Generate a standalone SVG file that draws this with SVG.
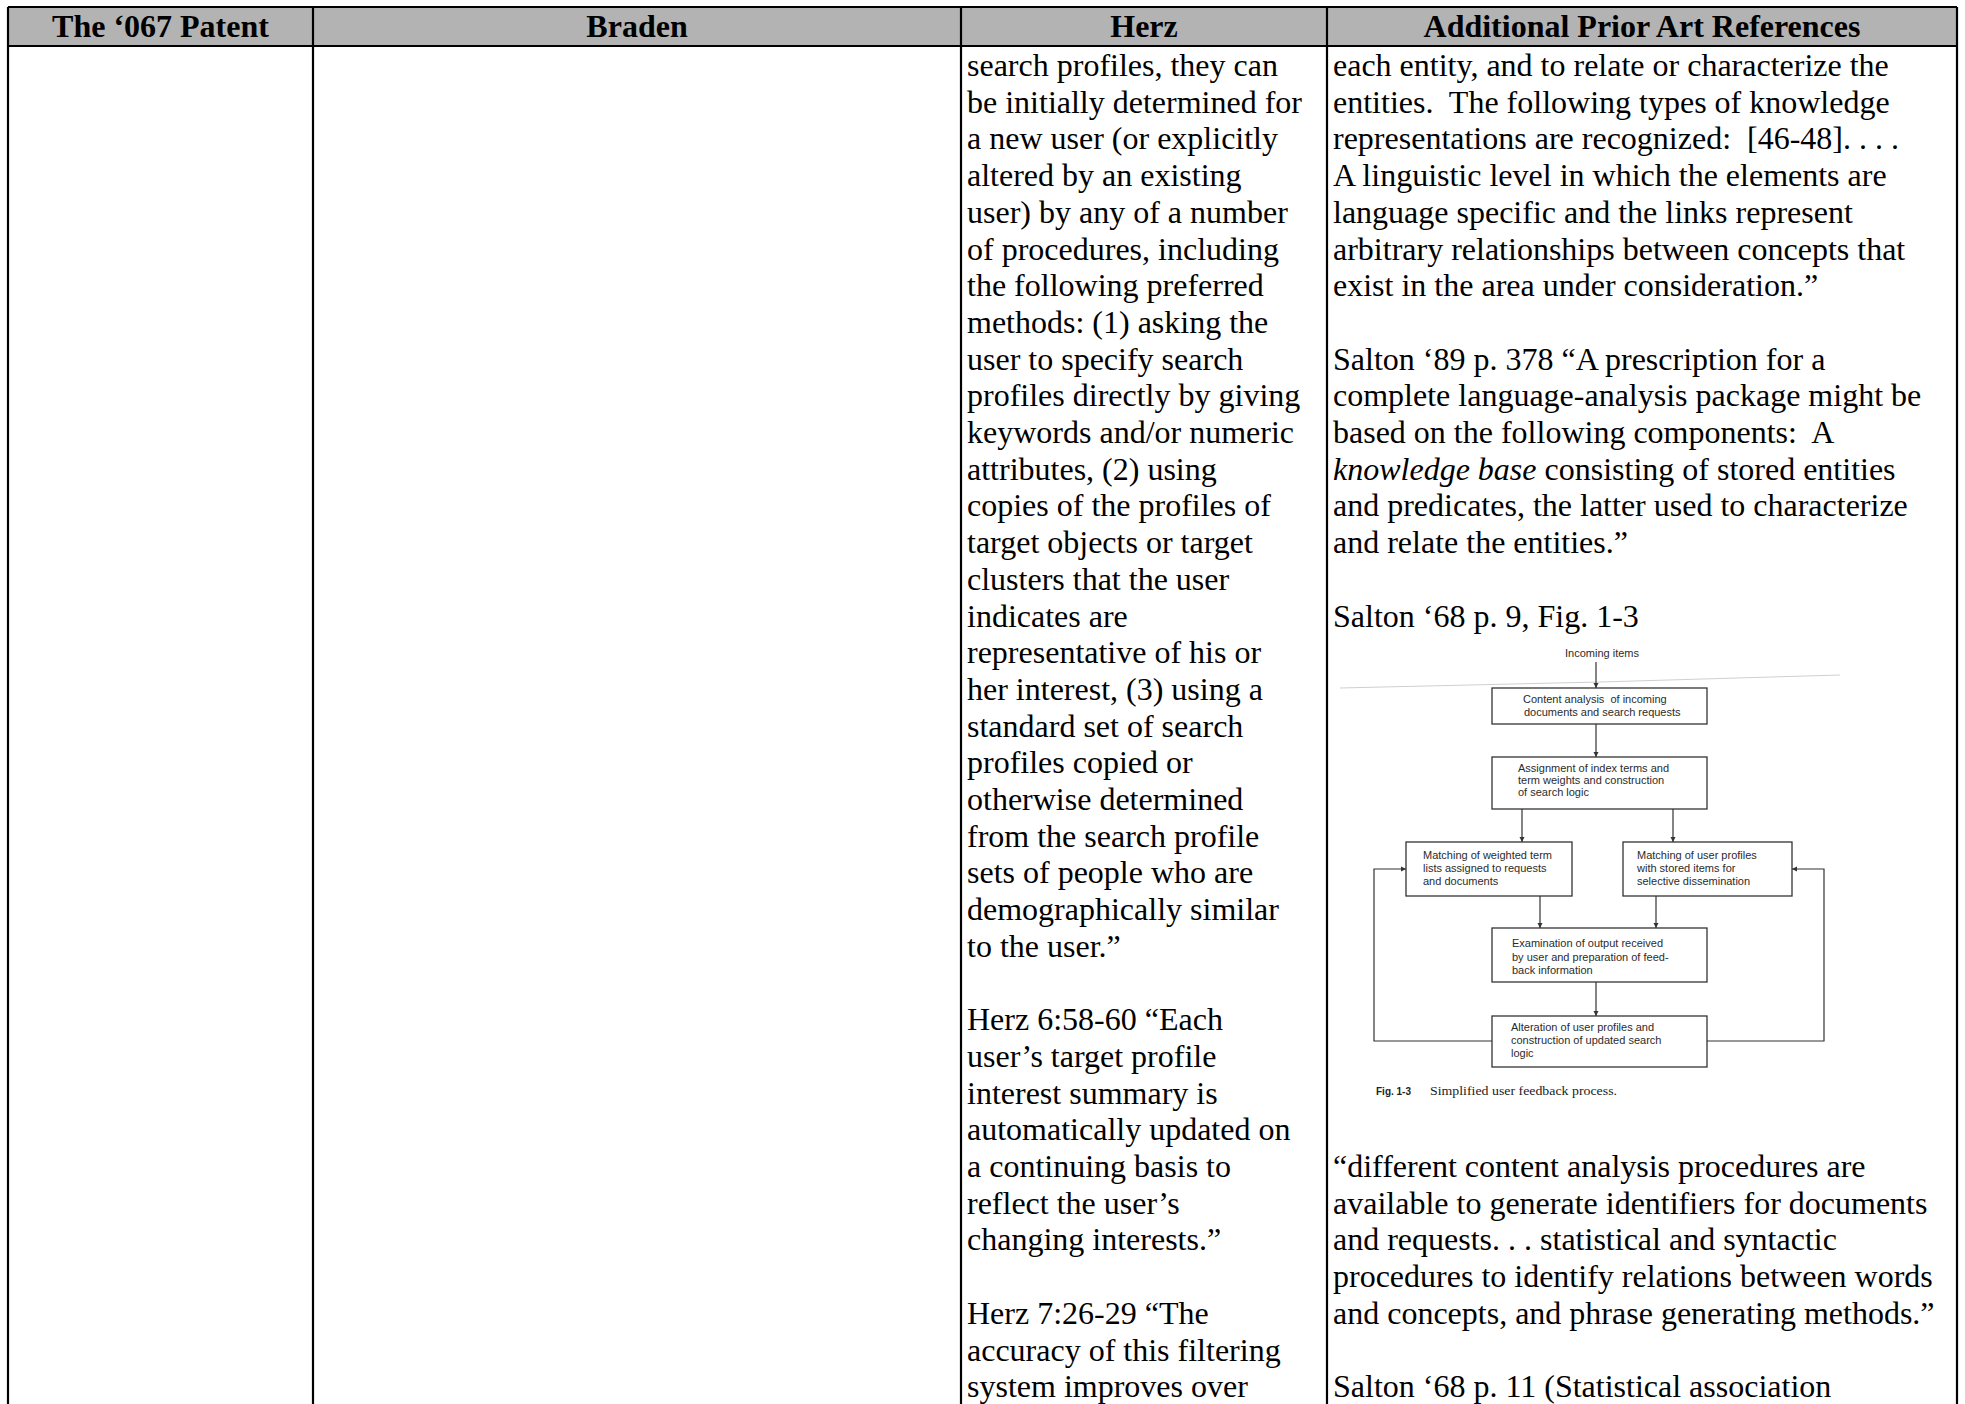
<svg xmlns="http://www.w3.org/2000/svg" width="1965" height="1404" viewBox="0 0 1965 1404">
<defs>
<style>
.t{font-family:"Liberation Serif","Times New Roman",serif;font-size:32px;fill:#000;white-space:pre}
.h{font-weight:bold;text-anchor:middle}
.f{font-family:"Liberation Sans",Arial,sans-serif;font-size:11px;fill:#2b2b2b;white-space:pre}
.bx{fill:#fff;stroke:#333;stroke-width:1.3}
.ln{stroke:#000;stroke-width:2.2;fill:none}
.cn{stroke:#333;stroke-width:1.2;fill:none}
</style>
<marker id="ah" viewBox="0 0 10 10" refX="10" refY="5" markerWidth="5" markerHeight="6" markerUnits="userSpaceOnUse" orient="auto">
<path d="M0,0 L10,5 L0,10 z" fill="#333"/>
</marker>
</defs>
<rect width="1965" height="1404" fill="#fff"/>
<g id="table">
<rect x="8" y="7" width="1949" height="39" fill="#b3b3b3"/>
<path class="ln" d="M8,7 H1957 M8,46 H1957 M8,7 V1404 M313,7 V1404 M961,7 V1404 M1327,7 V1404 M1957,7 V1404"/>
<text class="t h" x="160.5" y="37">The ‘067 Patent</text>
<text class="t h" x="637" y="37">Braden</text>
<text class="t h" x="1144" y="37">Herz</text>
<text class="t h" x="1642" y="37">Additional Prior Art References</text>
</g>
<g id="herz-text">
<text class="t" x="967" y="76"><tspan x="967">search profiles, they can</tspan><tspan x="967" dy="36.7">be initially determined for</tspan><tspan x="967" dy="36.7">a new user (or explicitly</tspan><tspan x="967" dy="36.7">altered by an existing</tspan><tspan x="967" dy="36.7">user) by any of a number</tspan><tspan x="967" dy="36.7">of procedures, including</tspan><tspan x="967" dy="36.7">the following preferred</tspan><tspan x="967" dy="36.7">methods: (1) asking the</tspan><tspan x="967" dy="36.7">user to specify search</tspan><tspan x="967" dy="36.7">profiles directly by giving</tspan><tspan x="967" dy="36.7">keywords and/or numeric</tspan><tspan x="967" dy="36.7">attributes, (2) using</tspan><tspan x="967" dy="36.7">copies of the profiles of</tspan><tspan x="967" dy="36.7">target objects or target</tspan><tspan x="967" dy="36.7">clusters that the user</tspan><tspan x="967" dy="36.7">indicates are</tspan><tspan x="967" dy="36.7">representative of his or</tspan><tspan x="967" dy="36.7">her interest, (3) using a</tspan><tspan x="967" dy="36.7">standard set of search</tspan><tspan x="967" dy="36.7">profiles copied or</tspan><tspan x="967" dy="36.7">otherwise determined</tspan><tspan x="967" dy="36.7">from the search profile</tspan><tspan x="967" dy="36.7">sets of people who are</tspan><tspan x="967" dy="36.7">demographically similar</tspan><tspan x="967" dy="36.7">to the user.”</tspan><tspan x="967" dy="73.4">Herz 6:58-60 “Each</tspan><tspan x="967" dy="36.7">user’s target profile</tspan><tspan x="967" dy="36.7">interest summary is</tspan><tspan x="967" dy="36.7">automatically updated on</tspan><tspan x="967" dy="36.7">a continuing basis to</tspan><tspan x="967" dy="36.7">reflect the user’s</tspan><tspan x="967" dy="36.7">changing interests.”</tspan><tspan x="967" dy="73.4">Herz 7:26-29 “The</tspan><tspan x="967" dy="36.7">accuracy of this filtering</tspan><tspan x="967" dy="36.7">system improves over</tspan></text>
</g>
<g id="prior-art-text">
<text class="t" x="1333" y="76"><tspan x="1333">each entity, and to relate or characterize the</tspan><tspan x="1333" dy="36.7">entities.  The following types of knowledge</tspan><tspan x="1333" dy="36.7">representations are recognized:  [46-48]. . . .</tspan><tspan x="1333" dy="36.7">A linguistic level in which the elements are</tspan><tspan x="1333" dy="36.7">language specific and the links represent</tspan><tspan x="1333" dy="36.7">arbitrary relationships between concepts that</tspan><tspan x="1333" dy="36.7">exist in the area under consideration.”</tspan><tspan x="1333" dy="73.4">Salton ‘89 p. 378 “A prescription for a</tspan><tspan x="1333" dy="36.7">complete language-analysis package might be</tspan><tspan x="1333" dy="36.7">based on the following components:  A</tspan><tspan x="1333" dy="36.7"><tspan font-style="italic">knowledge base</tspan> consisting of stored entities</tspan><tspan x="1333" dy="36.7">and predicates, the latter used to characterize</tspan><tspan x="1333" dy="36.7">and relate the entities.”</tspan><tspan x="1333" dy="73.4">Salton ‘68 p. 9, Fig. 1-3</tspan></text>
<text class="t" x="1333" y="1177"><tspan x="1333">“different content analysis procedures are</tspan><tspan x="1333" dy="36.7">available to generate identifiers for documents</tspan><tspan x="1333" dy="36.7">and requests. . . statistical and syntactic</tspan><tspan x="1333" dy="36.7">procedures to identify relations between words</tspan><tspan x="1333" dy="36.7">and concepts, and phrase generating methods.”</tspan><tspan x="1333" dy="73.4">Salton ‘68 p. 11 (Statistical association</tspan></text>
</g>
<g id="figure">
<path d="M1340,688 L1600,682 L1840,675" stroke="#cfcfcf" stroke-width="1" fill="none"/>
<text class="f" x="1602" y="657" text-anchor="middle">Incoming items</text>
<g id="connectors">
<path class="cn" marker-end="url(#ah)" d="M1596,662 V688"/>
<path class="cn" marker-end="url(#ah)" d="M1596,724 V757"/>
<path class="cn" marker-end="url(#ah)" d="M1522,809 V842"/>
<path class="cn" marker-end="url(#ah)" d="M1673,809 V842"/>
<path class="cn" marker-end="url(#ah)" d="M1540,896 V928"/>
<path class="cn" marker-end="url(#ah)" d="M1656,896 V928"/>
<path class="cn" marker-end="url(#ah)" d="M1596,982 V1016"/>
<path class="cn" marker-end="url(#ah)" d="M1492,1041 H1374 V869 H1406"/>
<path class="cn" marker-end="url(#ah)" d="M1707,1041 H1824 V869 H1792"/>
</g>
<g id="n1"><rect class="bx" x="1492" y="688" width="215" height="36"/>
<text class="f" x="1523" y="703">Content analysis  of incoming</text><text class="f" x="1524" y="716">documents and search requests</text></g>
<g id="n2"><rect class="bx" x="1492" y="757" width="215" height="52"/>
<text class="f" x="1518" y="772">Assignment of index terms and</text><text class="f" x="1518" y="784">term weights and construction</text><text class="f" x="1518" y="796">of search logic</text></g>
<g id="n3"><rect class="bx" x="1406" y="842" width="166" height="54"/>
<text class="f" x="1423" y="859">Matching of weighted term</text><text class="f" x="1423" y="872">lists assigned to requests</text><text class="f" x="1423" y="885">and documents</text></g>
<g id="n4"><rect class="bx" x="1623" y="842" width="169" height="54"/>
<text class="f" x="1637" y="859">Matching of user profiles</text><text class="f" x="1637" y="872">with stored items for</text><text class="f" x="1637" y="885">selective dissemination</text></g>
<g id="n5"><rect class="bx" x="1492" y="928" width="215" height="54"/>
<text class="f" x="1512" y="947">Examination of output received</text><text class="f" x="1512" y="961">by user and preparation of feed-</text><text class="f" x="1512" y="974">back information</text></g>
<g id="n6"><rect class="bx" x="1492" y="1016" width="215" height="51"/>
<text class="f" x="1511" y="1031">Alteration of user profiles and</text><text class="f" x="1511" y="1044">construction of updated search</text><text class="f" x="1511" y="1057">logic</text></g>
<text x="1376" y="1095" font-family="Liberation Sans,Arial,sans-serif" font-size="10" font-weight="bold" fill="#222">Fig. 1-3</text>
<text x="1430" y="1095" font-family="Liberation Serif,Times New Roman,serif" font-size="12.5" fill="#222" textLength="187" lengthAdjust="spacingAndGlyphs">Simplified user feedback process.</text>
</g>
</svg>
